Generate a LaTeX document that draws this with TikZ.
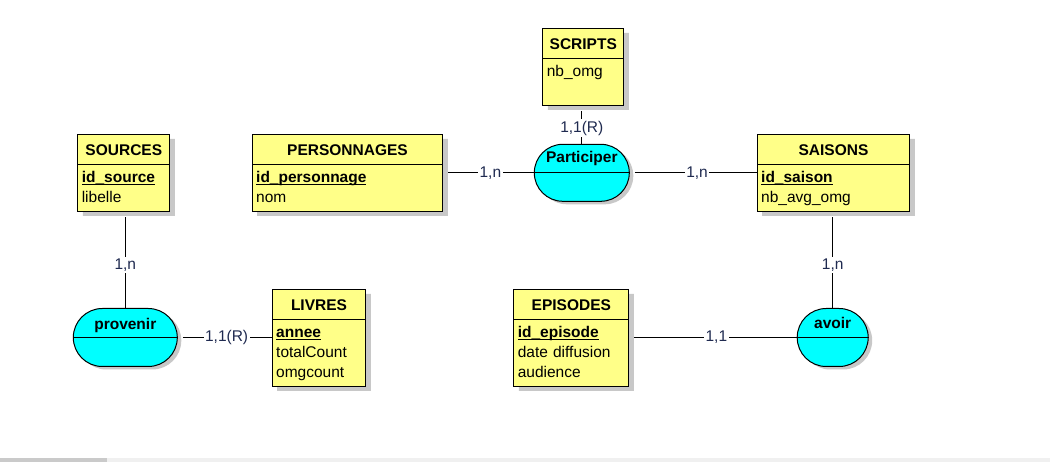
\documentclass[tikz,border=0pt]{standalone}
\usepackage{fontspec}
\setmainfont{Liberation Sans}
\usetikzlibrary{shapes.multipart,shapes.misc,shadows,positioning}

\definecolor{entyellow}{HTML}{FFFF88}
\definecolor{relcyan}{HTML}{00FFFF}
\definecolor{shadowgray}{HTML}{C8C8C8}
\definecolor{cardblue}{HTML}{1F2A50}
\definecolor{stripgray}{HTML}{F0F0F0}
\definecolor{thumbgray}{HTML}{CACACA}

\newcommand\erfont{\fontsize{15.5}{20}\selectfont}
\newcommand\enttitle[1]{\makebox[\linewidth]{\bfseries #1}\rule[-5.5pt]{0pt}{23pt}}
\newcommand\entkey[1]{\setbox0\hbox{\bfseries #1}\rlap{\rule[-3pt]{\wd0}{1.3pt}}\box0\strut}

\tikzset{
  entity/.style={rectangle split, rectangle split parts=2, draw, line width=1pt,
    fill=entyellow, anchor=north west, inner xsep=4pt, inner ysep=3pt,
    align=left, font=\erfont,
    drop shadow={shadow xshift=5pt, shadow yshift=-4pt, fill=shadowgray, opacity=1}},
  relation/.style={rounded rectangle, draw, line width=1pt, fill=relcyan, inner sep=0pt,
    drop shadow={shadow xshift=4pt, shadow yshift=-3pt, fill=shadowgray, opacity=1}},
  reltitle/.style={font=\erfont\bfseries, inner sep=0pt, anchor=base},
  card/.style={fill=white, inner sep=1.5pt, text=cardblue, font=\erfont},
  link/.style={line width=1pt, shorten <=5pt},
}

\begin{document}
\begin{tikzpicture}[x=1pt, y=-1pt]
	\useasboundingbox (0,0) rectangle (1053,462);
	\fill[white] (0,0) rectangle (1053,462);
	% scroll bar at the bottom
	\fill[stripgray] (0,458) rectangle (1050,462);
	\fill[thumbgray] (0,458) rectangle (107,462);

	% entities
	\node[entity, text width=84pt] (sources) at (77.3,134.3)
		{\enttitle{SOURCES}\nodepart{two}\entkey{id\_source}\\ libelle\strut};
	\node[entity, text width=182.6pt] (personnages) at (251.7,134.3)
		{\enttitle{PERSONNAGES}\nodepart{two}\entkey{id\_personnage}\\ nom\strut};
	\node[entity, text width=73pt] (scripts) at (542.3,28.3)
		{\enttitle{SCRIPTS}\nodepart{two}nb\_omg\strut\\ \strut};
	\node[entity, text width=144.6pt] (saisons) at (756.7,134.3)
		{\enttitle{SAISONS}\nodepart{two}\entkey{id\_saison}\\ nb\_avg\_omg\strut};
	\node[entity, text width=85.6pt] (livres) at (271.7,289.3)
		{\enttitle{LIVRES}\nodepart{two}\entkey{annee}\\ totalCount\strut\\ omgcount\strut};
	\node[entity, text width=107pt] (episodes) at (513.3,289.3)
		{\enttitle{EPISODES}\nodepart{two}\entkey{id\_episode}\\ date diffusion\strut\\ audience\strut};

	% associations
	\node[relation, minimum width=95pt, minimum height=57pt] (participer) at (581.8,172.8) {};
	\node[relation, minimum width=104pt, minimum height=58pt] (provenir) at (125.3,337.5) {};
	\node[relation, minimum width=71pt, minimum height=58pt] (avoir) at (832.7,337.5) {};
	\draw[line width=1pt] (participer.west) -- (participer.east);
	\draw[line width=1pt] (provenir.west) -- (provenir.east);
	\draw[line width=1pt] (avoir.west) -- (avoir.east);
	\node[reltitle] (participer-t) at ([yshift=10pt]participer.center) {Participer};
	\node[reltitle] (provenir-t) at ([yshift=8pt]provenir.center) {provenir};
	\node[reltitle] (avoir-t) at ([yshift=9pt]avoir.center) {avoir};

	% links
	\draw[link] (scripts.south -| participer.north) -- node[card, pos=0.58] {1,1(R)} (participer.north);
	\draw[link] (participer.west -| personnages.east) -- node[card, pos=0.52] {1,n} (participer.west);
	\draw[link] (participer.east) -- node[card, pos=0.53] {1,n} (participer.east -| saisons.west);
	\draw[link] (sources.south -| provenir.north) -- node[card, pos=0.55] {1,n} (provenir.north);
	\draw[link] (saisons.south -| avoir.north) -- node[card, pos=0.55] {1,n} (avoir.north);
	\draw[link] (provenir.east) -- node[card, pos=0.52] {1,1(R)} (provenir.east -| livres.west);
	\draw[link] (avoir.west -| episodes.east) -- node[card, pos=0.52] {1,1} (avoir.west);
\end{tikzpicture}
\end{document}
